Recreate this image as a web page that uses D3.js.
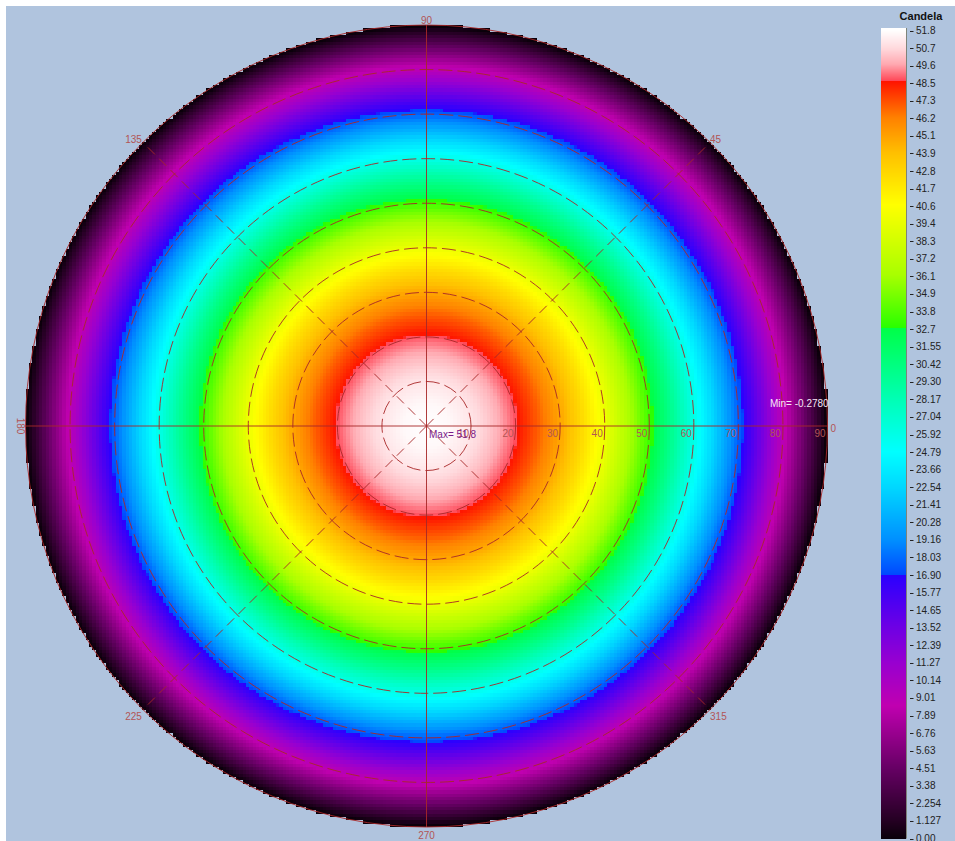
<!DOCTYPE html>
<html><head><meta charset="utf-8">
<script src="https://cdn.jsdelivr.net/npm/d3@7"></script>
<style>
html,body{margin:0;padding:0;background:#ffffff;}
svg{display:block;font-family:"Liberation Sans",Arial,sans-serif;}
</style>
</head><body>
<svg id="chart" width="955" height="841"></svg>
<script>
// ---- data ----
const thetaDeg = [0,5,10,15,20,25,30,35,40,45,50,55,60,65,70,75,80,85,90];
const candela  = [51.8,51.6,51.0,50.03,48.68,46.95,44.86,42.43,39.68,36.63,33.30,29.71,25.90,21.89,17.72,13.41,8.99,4.51,-0.278];
const ringValues = [10,20,30,40,50,60,70,80,90];
const angleValues = [0,45,90,135,180,225,270,315];
const legendTicks = ["51.8","50.7","49.6","48.5","47.3","46.2","45.1","43.9","42.8","41.7","40.6","39.4","38.3","37.2","36.1","34.9","33.8","32.7","31.55","30.42","29.30","28.17","27.04","25.92","24.79","23.66","22.54","21.41","20.28","19.16","18.03","16.90","15.77","14.65","13.52","12.39","11.27","10.14","9.01","7.89","6.76","5.63","4.51","3.38","2.254","1.127","0.00"];
const cmapValues = [0,1.127,2.254,4.51,8.5,11.27,13.52,16.88,16.9,19.16,22.54,24.79,28.17,32.68,32.7,36.1,40.6,43.9,46.2,48.5,48.55,49.6,50.6,51.8];
const cmapColors = ["#0a000a","#240022","#3a0038","#660064","#c000b0","#9800d0","#6e00e4","#2a00ff","#0048ff","#0090ff","#00d8ff","#00ffff","#00ffb4","#00ff48","#28ff00","#a8ff00","#ffff00","#ffc000","#ff8000","#ff1400","#ff4858","#ffa8b0","#ffd8dc","#ffffff"];
const maxText = "Max= 51.8";
const minText = "Min= -0.2780";
const legendTitle = "Candela";

// ---- layout ----
const W = 955, H = 841;
const cx = 426.5, cy = 426, R = 401;
const svg = d3.select("#chart");

svg.append("rect").attr("x",6).attr("y",6).attr("width",W-6).attr("height",H-6).attr("fill","#b0c4de");

const rScale = d3.scaleLinear().domain([0,90]).range([0,R]);
const profile = d3.scaleLinear().domain(thetaDeg).range(candela);
const color = d3.scaleLinear().domain(cmapValues).range(cmapColors).interpolate(d3.interpolateRgb).clamp(true);

// ---- heat map cells (canvas) ----
const N = 240, s = 2*R/N;
const canvas = document.createElement("canvas");
canvas.width = W; canvas.height = H;
const ctx = canvas.getContext("2d");
for (let i=0;i<N;i++){
  for (let j=0;j<N;j++){
    const ux = -R + (i+0.5)*s, uy = -R + (j+0.5)*s;
    const d = Math.hypot(ux,uy);
    if (d > R) continue;
    const th = rScale.invert(d);
    ctx.fillStyle = color(profile(th));
    const x0 = Math.round(cx - R + i*s), x1 = Math.round(cx - R + (i+1)*s);
    const y0 = Math.round(cy - R + j*s), y1 = Math.round(cy - R + (j+1)*s);
    ctx.fillRect(x0,y0,x1-x0,y1-y0);
  }
}
svg.append("image").attr("x",0).attr("y",0).attr("width",W).attr("height",H)
  .attr("href", canvas.toDataURL("image/png"));

// ---- grid ----
const gridCol = "#a82828";
const g = svg.append("g");
g.selectAll("circle.ring").data(ringValues).join("circle")
  .attr("cx",cx).attr("cy",cy).attr("r",d=>rScale(d))
  .attr("fill","none").attr("stroke",gridCol).attr("stroke-width",1)
  .attr("stroke-dasharray",d=>d===90?null:"14,5").attr("opacity",0.9);

g.selectAll("line.spoke").data(angleValues).join("line")
  .attr("x1",cx).attr("y1",cy)
  .attr("x2",d=>cx + R*Math.cos(d*Math.PI/180))
  .attr("y2",d=>cy - R*Math.sin(d*Math.PI/180))
  .attr("stroke",gridCol).attr("stroke-width",1)
  .attr("stroke-dasharray",d=>d%90===0?null:"10,6").attr("opacity",0.9);

// radial labels
const lblCol = "#b25555";
g.selectAll("text.rl").data(ringValues).join("text")
  .attr("x",d=>cx + rScale(d) - 2).attr("y",cy+11)
  .attr("text-anchor","end").attr("font-size",10).attr("fill",lblCol)
  .text(d=>d);

// angle labels
function apos(a){ return [cx + R*Math.cos(a*Math.PI/180), cy - R*Math.sin(a*Math.PI/180)]; }
g.selectAll("text.al").data(angleValues).join("text")
  .attr("font-size",10).attr("fill",lblCol).text(d=>d)
  .each(function(d){
    const [px,py] = apos(d);
    const t = d3.select(this);
    if (d===0){ t.attr("x",px+3).attr("y",py+6).attr("text-anchor","start"); }
    else if (d===90){ t.attr("x",px).attr("y",py-1).attr("text-anchor","middle"); }
    else if (d===180){ t.attr("transform",`translate(${px-9},${py}) rotate(90)`).attr("text-anchor","middle"); }
    else if (d===270){ t.attr("x",px).attr("y",py+12).attr("text-anchor","middle"); }
    else if (d===135){ t.attr("x",px-1).attr("y",py+1).attr("text-anchor","end"); }
    else if (d===45){ t.attr("x",px).attr("y",py+1).attr("text-anchor","start"); }
    else if (d===225){ t.attr("x",px-1).attr("y",py+10.5).attr("text-anchor","end"); }
    else if (d===315){ t.attr("x",px).attr("y",py+10.5).attr("text-anchor","start"); }
  });

svg.append("text").attr("x",429).attr("y",437.5).attr("font-size",10).attr("fill","#7a1a8a").text(maxText);
svg.append("text").attr("x",770).attr("y",407).attr("font-size",10).attr("fill","#f6e6f6").text(minText);

// ---- legend ----
const lx0 = 881, lx1 = 906, ly0 = 28, ly1 = 838.5;
const yLeg = d3.scaleLinear().domain([0,51.8]).range([ly1, 30]);
const leg = svg.append("g");
const rows = d3.range(Math.floor(ly0), Math.ceil(ly1));
leg.selectAll("rect.cb").data(rows).join("rect")
  .attr("x",lx0).attr("y",d=>d).attr("width",lx1-lx0).attr("height",1)
  .attr("fill",d=>color(yLeg.invert(d+0.5)));
leg.append("line").attr("x1",lx1+0.5).attr("x2",lx1+0.5).attr("y1",ly0).attr("y2",ly1)
  .attr("stroke","#6a6a50").attr("stroke-width",1).attr("opacity",0.7);

const tickY = d3.scalePoint().domain(legendTicks).range([30.5, 838.5]);
leg.selectAll("line.tk").data(legendTicks).join("line")
  .attr("x1",910).attr("x2",913.5).attr("y1",d=>Math.round(tickY(d))+0.5).attr("y2",d=>Math.round(tickY(d))+0.5)
  .attr("stroke","#222").attr("stroke-width",1);
leg.selectAll("text.tl").data(legendTicks).join("text")
  .attr("x",916).attr("y",d=>tickY(d)).attr("dy","0.35em")
  .attr("font-size",10).attr("fill","#222").text(d=>d);
leg.append("text").attr("x",921).attr("y",19.5).attr("text-anchor","middle")
  .attr("font-size",11).attr("font-weight","bold").attr("fill","#111").text(legendTitle);
</script>
</body></html>
